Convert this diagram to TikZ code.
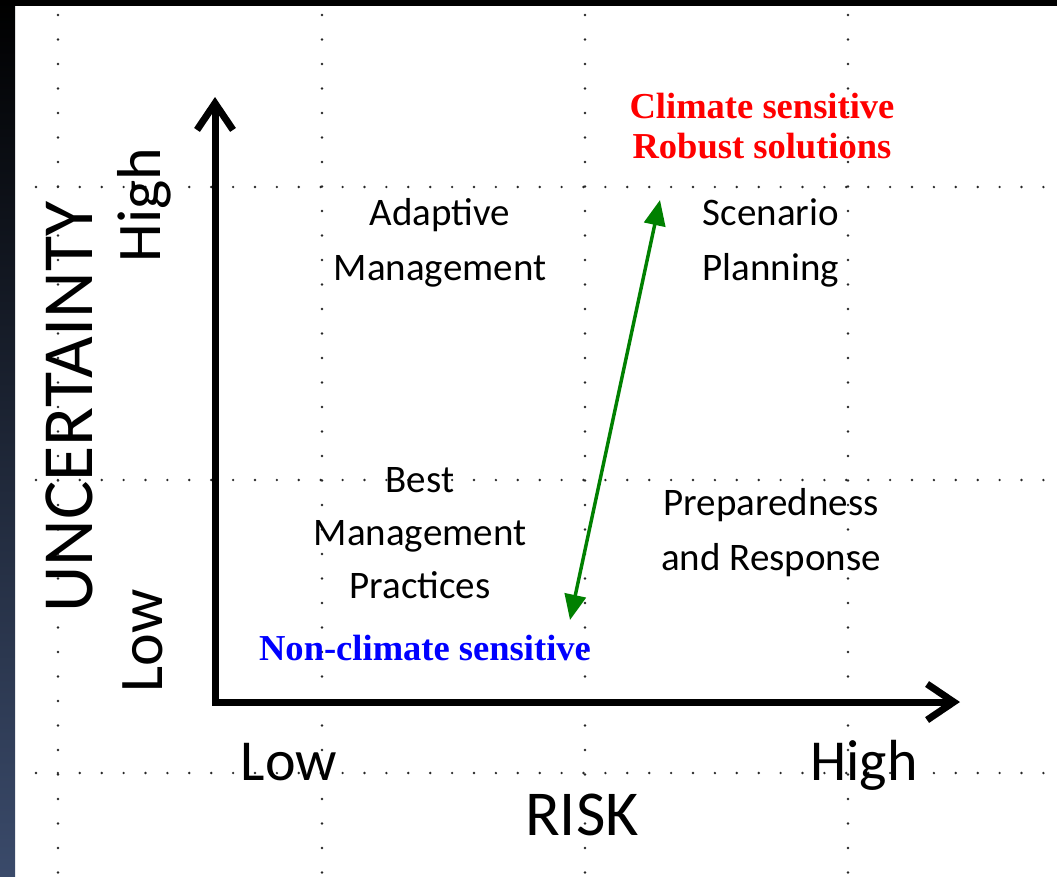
\documentclass[tikz,border=0pt]{standalone}
\usepackage{fontspec}
\newfontfamily\calfont{Carlito}
\newfontfamily\tnrfont{Liberation Serif}
\usetikzlibrary{arrows.meta}
\definecolor{bandblue}{RGB}{58,74,106}
\definecolor{dotgray}{RGB}{40,40,40}
\definecolor{redtxt}{RGB}{255,0,0}
\definecolor{bluetxt}{RGB}{0,0,255}
\definecolor{greenarr}{RGB}{0,128,0}
\tikzset{
  quad/.style={font=\calfont\fontsize{29.25}{41}\selectfont, align=center, anchor=base, text=black, inner sep=0pt},
  vlabel/.style={font=\calfont\fontsize{46.5}{50}\selectfont, rotate=90, anchor=base, inner sep=0pt},
  hlabel/.style={font=\calfont\fontsize{43.5}{50}\selectfont, anchor=base, inner sep=0pt},
  serifnote/.style={font=\tnrfont\bfseries\fontsize{27.4}{30}\selectfont, align=center, anchor=base, inner sep=0pt},
  axisline/.style={line width=5.25pt, line join=miter, {Straight Barb[length=20pt,width=27pt]}-{Straight Barb[length=20pt,width=27pt]}},
  dot/.style={fill=dotgray},
}
\begin{document}
\begin{tikzpicture}[x=0.75pt,y=-0.75pt]
\useasboundingbox (0,0) rectangle (1057,876);
\fill[white] (0,0) rectangle (1057,876);
\fill[black] (0,0) rectangle (1057,6);
\shade[top color=black, bottom color=bandblue] (0,0) rectangle (15,876);
% dotted grid
\foreach \y in {187,480,773}
  \foreach \k in {0,...,46}
    \fill[dot] ({36+21.9*\k},\y) circle (1pt);
\foreach \x in {58,322,585,848}
  \foreach \k in {0,...,35}
    \fill[dot] (\x,{15+24.5*\k}) circle (1pt);
% quadrant labels (anchor = baseline of last line)
\node[quad] (am) at (440,280) {Adaptive\\Management};
\node[quad] (sp) at (771,280) {Scenario\\Planning};
\node[quad, font=\calfont\fontsize{29.25}{39.5}\selectfont] (bmp) at (420,598) {Best\\Management\\Practices};
\node[quad] (pr) at (771,570) {Preparedness\\and Response};
% notes
\node[serifnote, text=redtxt] (cs) at (762,158) {Climate sensitive\\Robust solutions};
\node[serifnote, text=bluetxt] (ncs) at (425,660) {Non-climate sensitive};
% axis labels
\node[vlabel, font=\calfont\fontsize{54}{60}\selectfont] (unc) at (92,407) {UNCERTAINTY};
\node[vlabel] (yhigh) at (160,205) {High};
\node[vlabel] (ylow) at (162,641) {Low};
\node[hlabel] (xlow) at (289,780) {Low};
\node[hlabel] (xhigh) at (864,780) {High};
\node[hlabel, font=\calfont\fontsize{48}{55}\selectfont] (risk) at (582,835) {RISK};
% axes
\coordinate (O) at (215,702);
\coordinate (ytip) at (215,97);
\coordinate (xtip) at (960,702);
\draw[axisline] (ytip) -- (O) -- (xtip);
% green double arrow
\coordinate (g1) at (570,620);
\coordinate (g2) at (660,200);
\draw[greenarr, line width=2.6pt, {Triangle[length=19pt,width=16pt]}-{Triangle[length=19pt,width=16pt]}] (g1) -- (g2);
\end{tikzpicture}
\end{document}
